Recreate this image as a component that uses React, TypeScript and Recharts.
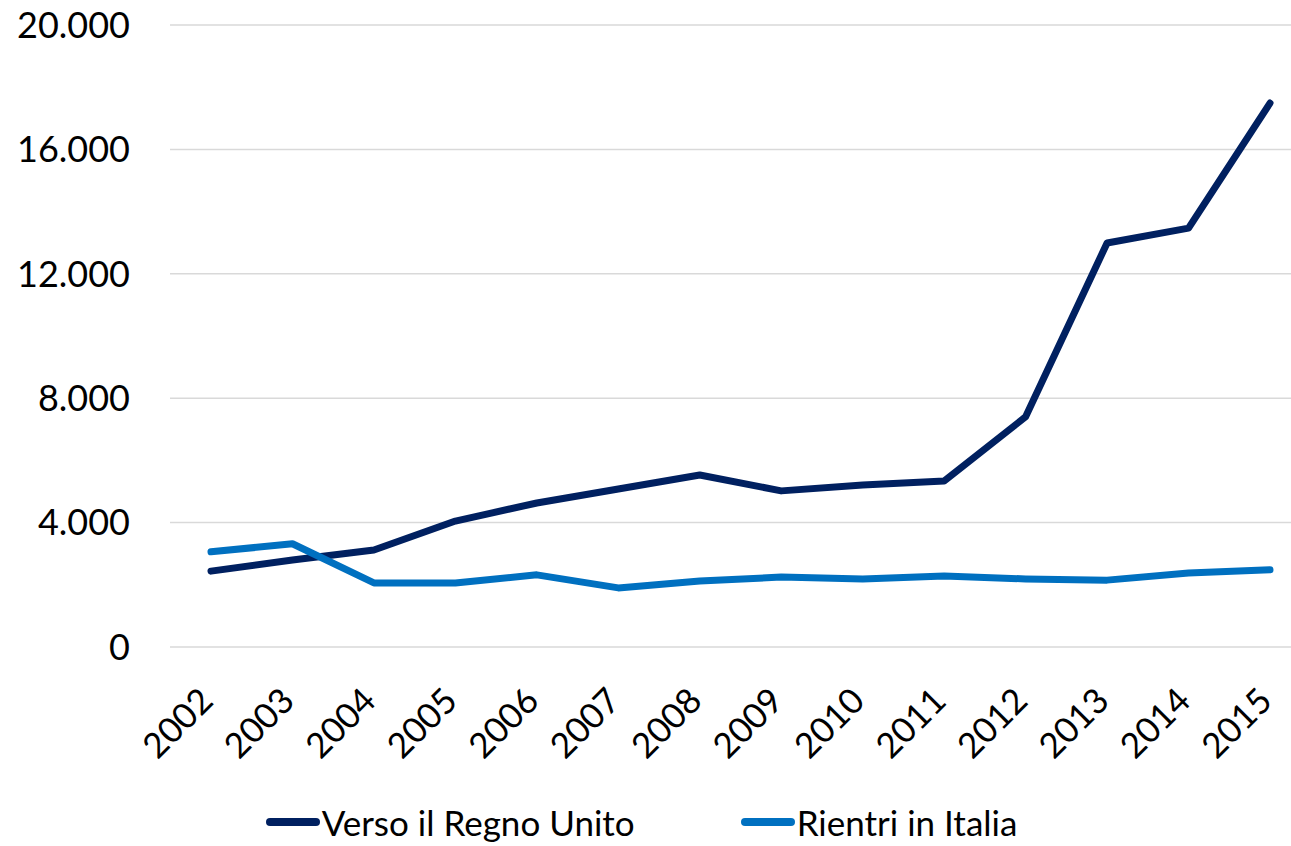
import { LineChart, Line, XAxis, YAxis, CartesianGrid, Legend } from 'recharts';

const anni = ['2002', '2003', '2004', '2005', '2006', '2007', '2008', '2009', '2010', '2011', '2012', '2013', '2014', '2015'];
const versoRegnoUnito = [2440, 2800, 3120, 4050, 4630, 5080, 5530, 5020, 5210, 5340, 7400, 12990, 13470, 17490];
const rientriItalia = [3060, 3320, 2060, 2060, 2320, 1900, 2120, 2250, 2190, 2280, 2190, 2150, 2380, 2480];
const yTicks = [0, 4000, 8000, 12000, 16000, 20000];

const dati = anni.map((anno, i) => ({
  anno,
  regno: versoRegnoUnito[i],
  rientri: rientriItalia[i],
}));

const FONT = 'Lato, "Open Sans", sans-serif';
const COL_REGNO = '#002060';
const COL_RIENTRI = '#0070C0';

const formatta = (v: number) => (v === 0 ? '0' : v.toLocaleString('de-DE'));

function TickAnno(props: any) {
  const { x, y, payload } = props;
  return (
    <g transform={`translate(${x + 4},${y + 48})`}>
      <text textAnchor="end" transform="rotate(-45)" fontSize={35} fontFamily={FONT} fill="#000">
        {payload.value}
      </text>
    </g>
  );
}

function Legenda() {
  const voci = [
    { nome: 'Verso il Regno Unito', colore: COL_REGNO },
    { nome: 'Rientri in Italia', colore: COL_RIENTRI },
  ];
  return (
    <div style={{ display: 'flex', justifyContent: 'center', gap: 106, paddingTop: 34, paddingRight: 8, fontFamily: FONT, fontSize: 35, color: '#000' }}>
      {voci.map((v) => (
        <div key={v.nome} style={{ display: 'flex', alignItems: 'center' }}>
          <svg width={54} height={12} style={{ marginRight: 2 }}>
            <line x1={4} y1={6} x2={50} y2={6} stroke={v.colore} strokeWidth={8} strokeLinecap="round" />
          </svg>
          <span>{v.nome}</span>
        </div>
      ))}
    </div>
  );
}

export default function App() {
  return (
    <div style={{ position: 'fixed', left: 0, top: 0, background: '#fff' }}>
      <LineChart width={1291} height={846} data={dati} margin={{ top: 25, right: 0, bottom: 0, left: 0 }}>
        <CartesianGrid vertical={false} stroke="#D9D9D9" strokeWidth={1.5} />
        <XAxis
          dataKey="anno"
          height={120}
          padding={{ left: 41, right: 21 }}
          tickLine={false}
          axisLine={false}
          interval={0}
          tick={<TickAnno />}
        />
        <YAxis
          width={170}
          domain={[0, 20000]}
          ticks={yTicks}
          tickFormatter={formatta}
          tickLine={false}
          axisLine={false}
          tickSize={0}
          tickMargin={40}
          tick={{ fontSize: 36, fontFamily: FONT, fill: '#000' }}
        />
        <Legend verticalAlign="bottom" height={79} content={<Legenda />} />
        <Line dataKey="regno" name="Verso il Regno Unito" stroke={COL_REGNO} strokeWidth={7} strokeLinecap="round" strokeLinejoin="round" dot={false} isAnimationActive={false} />
        <Line dataKey="rientri" name="Rientri in Italia" stroke={COL_RIENTRI} strokeWidth={7} strokeLinecap="round" strokeLinejoin="round" dot={false} isAnimationActive={false} />
      </LineChart>
    </div>
  );
}
